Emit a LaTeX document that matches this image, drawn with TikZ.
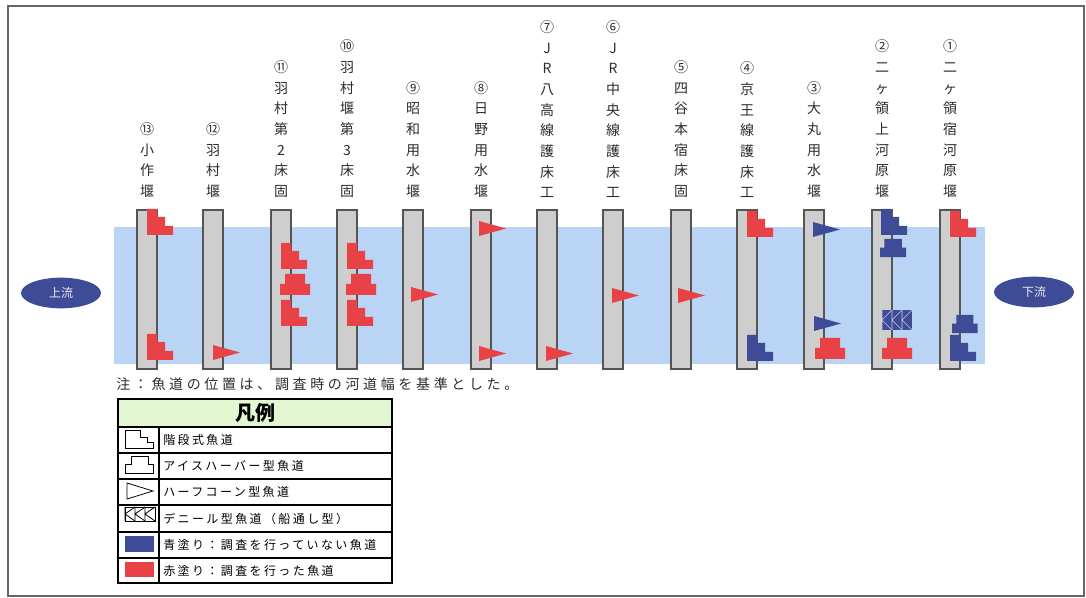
\documentclass[tikz,border=0pt]{standalone}
\usepackage{fontspec}
\setmainfont{Noto Sans CJK JP}
\newfontfamily\notefont[LetterSpace=26]{Noto Sans CJK JP}
\newfontfamily\legfont[LetterSpace=20]{Noto Sans CJK JP}
\usetikzlibrary{shapes.geometric}
\definecolor{fwred}{RGB}{232,66,70}
\definecolor{fwblue}{RGB}{62,76,152}
\definecolor{water}{RGB}{186,212,246}
\definecolor{barfill}{RGB}{206,206,206}
\definecolor{baredge}{RGB}{85,85,85}
\definecolor{hdrgreen}{RGB}{226,247,210}
\definecolor{lbltext}{RGB}{45,45,45}
\tikzset{
  fwstep/.pic={\fill[#1] (0,0) -- (10,0) -- (10,8) -- (18,8) -- (18,17) -- (26,17) -- (26,26) -- (0,26) -- cycle;},
  fwice/.pic={\fill[#1] (5,0) -- (25,0) -- (25,10) -- (30,10) -- (30,21) -- (0,21) -- (0,10) -- (5,10) -- cycle;},
  fwcone/.pic={\fill[#1] (0,0) -- (27,7.5) -- (0,15) -- cycle;},
  fwdenil/.pic={\fill[#1] (0,0) rectangle (30,20);
     \foreach \k in {0,10,20}{\draw[denil] (\k,0) -- (\k,20) (\k+10,0) -- (\k,10) -- (\k+10,20);}},
  denil/.style={draw=white!70!fwblue, line width=0.5pt},
  barbox/.style={fill=barfill, draw=baredge, line width=1.1pt},
  lbl/.style={font=\fontsize{10.5pt}{15.5pt}\selectfont, text=lbltext, align=center, inner sep=0pt, anchor=south},
  flow/.style={ellipse, fill=fwblue, text=white!88!fwblue, minimum width=60pt, minimum height=23pt, inner sep=0pt, font=\fontsize{9pt}{10pt}\selectfont},
  legline/.style={draw=black, line width=0.9pt},
  legicon/.style={draw=black, line width=0.6pt},
  legtxt/.style={anchor=west, inner sep=0pt, font=\legfont\fontsize{9pt}{10pt}\selectfont, text=black},
}
\begin{document}
\begin{tikzpicture}[x=0.75pt,y=-0.75pt]
\useasboundingbox (0,0) rectangle (1086,598);
\fill[white] (0,0) rectangle (1086,598);
% frame
\draw[draw=gray!80!black, line width=1.4pt] (8,6) rectangle (1084,596);
% water band
\fill[water] (114,227) rectangle (985,364);
% bars
\foreach \c in {147,213,281,347,413,481,547,613,681,747,814,882,950}{
  \draw[barbox] (\c-10,210) rectangle (\c+10,369);
}
% labels
\node[lbl] (l13) at (147,198) {⑬\\小\\作\\堰};
\node[lbl] (l12) at (213,198) {⑫\\羽\\村\\堰};
\node[lbl] (l11) at (281,198) {⑪\\羽\\村\\第\\2\\床\\固};
\node[lbl] (l10) at (347,198) {⑩\\羽\\村\\堰\\第\\3\\床\\固};
\node[lbl] (l9) at (413,198) {⑨\\昭\\和\\用\\水\\堰};
\node[lbl] (l8) at (481,198) {⑧\\日\\野\\用\\水\\堰};
\node[lbl] (l7) at (547,198) {⑦\\J\\R\\八\\高\\線\\護\\床\\工};
\node[lbl] (l6) at (613,198) {⑥\\J\\R\\中\\央\\線\\護\\床\\工};
\node[lbl] (l5) at (681,198) {⑤\\四\\谷\\本\\宿\\床\\固};
\node[lbl] (l4) at (747,198) {④\\京\\王\\線\\護\\床\\工};
\node[lbl] (l3) at (814,198) {③\\大\\丸\\用\\水\\堰};
\node[lbl] (l2) at (882,198) {②\\二\\ヶ\\領\\上\\河\\原\\堰};
\node[lbl] (l1) at (950,198) {①\\二\\ヶ\\領\\宿\\河\\原\\堰};
% fishways
\pic at (147,209) {fwstep=fwred};
\pic at (147,334) {fwstep=fwred};
\pic at (213,345) {fwcone=fwred};
\pic at (281,243) {fwstep=fwred};
\pic at (280,274) {fwice=fwred};
\pic at (281,300) {fwstep=fwred};
\pic at (347,243) {fwstep=fwred};
\pic at (346,274) {fwice=fwred};
\pic at (347,300) {fwstep=fwred};
\pic at (411,287) {fwcone=fwred};
\pic at (479,221) {fwcone=fwred};
\pic at (479,346) {fwcone=fwred};
\pic at (546,346) {fwcone=fwred};
\pic at (612,288) {fwcone=fwred};
\pic at (678,288) {fwcone=fwred};
\pic at (747,211) {fwstep=fwred};
\pic at (747,335) {fwstep=fwblue};
\pic at (813,222) {fwcone=fwblue};
\pic at (814,316) {fwcone=fwblue};
\pic at (815,338) {fwice=fwred};
\pic at (881,209) {fwstep=fwblue};
\pic[xscale=0.87,yscale=0.86] at (880,239) {fwice=fwblue};
\pic at (882,310) {fwdenil=fwblue};
\pic at (882,338) {fwice=fwred};
\pic at (950,211) {fwstep=fwred};
\pic[xscale=0.85,yscale=0.86] at (952,315) {fwice=fwblue};
\pic at (950,335) {fwstep=fwblue};
% up/down stream
\node[flow] (up) at (61,293) {上流};
\node[flow] (down) at (1034,292) {下流};
% note
\node[anchor=west, inner sep=0pt, font=\notefont\fontsize{10.5pt}{12pt}\selectfont, text=lbltext] (note) at (116,384) {注：魚道の位置は、調査時の河道幅を基準とした。};
% legend
\fill[hdrgreen] (118,399) rectangle (392,427);
\draw[legline] (118,399) rectangle (392,583);
\foreach \yy in {427,453,479,505,532,558}{\draw[legline] (118,\yy) -- (392,\yy);}
\draw[legline] (159,427) -- (159,583);
\node[font=\bfseries\fontsize{15pt}{16pt}\selectfont, inner sep=0pt] (hdr) at (255,413) {凡例};
\draw[legicon] (125,430) -- (140,430) -- (140,437) -- (147,437) -- (147,442) -- (153,442) -- (153,448) -- (125,448) -- cycle;
\draw[legicon] (125,473) -- (125,464) -- (131,464) -- (131,456) -- (148,456) -- (148,464) -- (153,464) -- (153,473) -- cycle;
\draw[legicon] (127,483) -- (153,491) -- (127,499) -- cycle;
\draw[legicon] (125,507) rectangle (155,521);
\foreach \k in {125,135,145}{\draw[legicon] (\k,507) -- (\k,521) (\k+10,507) -- (\k,514) -- (\k+10,521);}
\fill[fwblue] (125,536) rectangle (154,552);
\fill[fwred] (125,562) rectangle (154,577);
\node[legtxt] (t1) at (163,440) {階段式魚道};
\node[legtxt] (t2) at (163,466) {アイスハーバー型魚道};
\node[legtxt] (t3) at (163,492) {ハーフコーン型魚道};
\node[legtxt] (t4) at (163,518.5) {デニール型魚道（船通し型）};
\node[legtxt] (t5) at (163,545) {青塗り：調査を行っていない魚道};
\node[legtxt] (t6) at (163,570.5) {赤塗り：調査を行った魚道};
\end{tikzpicture}
\end{document}
